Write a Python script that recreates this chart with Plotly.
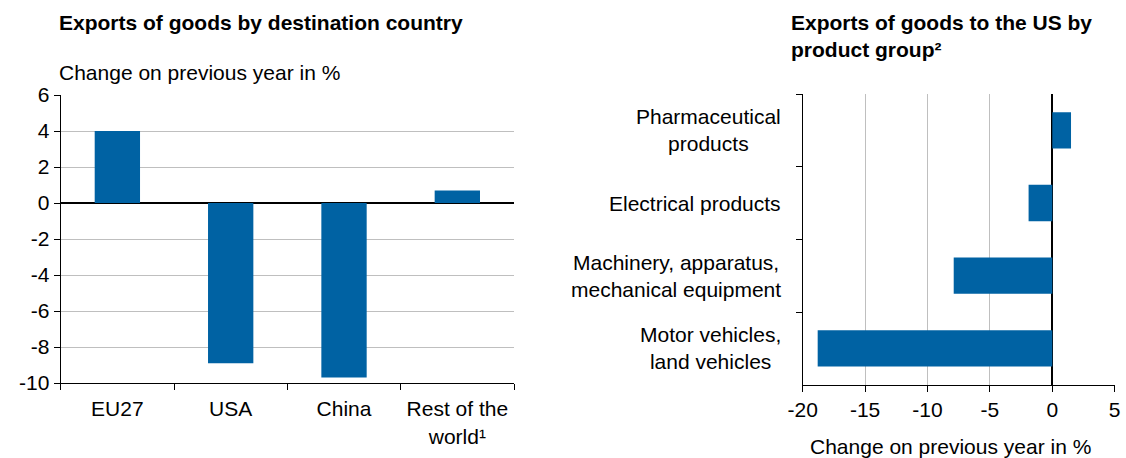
import plotly.graph_objects as go

# Left panel: exports by destination country
countries = ["EU27", "USA", "China", "Rest of the<br>world¹"]
country_change = [4.0, -8.9, -9.7, 0.7]
left_ticks = [6, 4, 2, 0, -2, -4, -6, -8, -10]

# Right panel: exports to the US by product group (top to bottom)
products = [
    "Pharmaceutical<br>products",
    "Electrical products",
    "Machinery, apparatus,<br>mechanical equipment",
    "Motor vehicles,<br>land vehicles",
]
product_change = [1.5, -1.9, -7.9, -18.8]
right_ticks = [-20, -15, -10, -5, 0, 5]

BLUE = "#0062A3"
GRID = "#BFBFBF"
FONT = "Liberation Sans"
FS = 21
W, H = 1126, 458

fig = go.Figure()

fig.add_trace(go.Bar(
    x=countries, y=country_change, xaxis="x", yaxis="y",
    marker=dict(color=BLUE, line=dict(width=0)), width=0.4,
    hoverinfo="skip",
))
fig.add_trace(go.Bar(
    x=product_change, y=products, orientation="h", xaxis="x2", yaxis="y2",
    marker=dict(color=BLUE, line=dict(width=0)), width=0.5,
    hoverinfo="skip",
))

tickfont = dict(family=FONT, size=FS, color="#000000")
axis_common = dict(
    ticks="outside", ticklen=6, tickcolor="#000", tickwidth=1.3,
    showline=True, linecolor="#000", linewidth=1.3,
    automargin=False, fixedrange=True,
)

fig.update_layout(
    width=W, height=H,
    margin=dict(l=0, r=0, t=0, b=0),
    paper_bgcolor="white", plot_bgcolor="white",
    showlegend=False,
    font=dict(family=FONT, color="#000000"),
    xaxis=dict(
        domain=[60.7 / W, 514 / W], anchor="y",
        type="category", tickson="boundaries", ticklabelstandoff=7,
        showgrid=False, tickfont=tickfont, **axis_common,
    ),
    yaxis=dict(
        domain=[1 - 383 / H, 1 - 95 / H], anchor="x",
        range=[-10, 6], tickvals=left_ticks,
        ticktext=[str(v) for v in left_ticks],
        showgrid=True, gridcolor=GRID, gridwidth=1.3,
        zeroline=True, zerolinecolor="#000", zerolinewidth=1.5,
        tickfont=tickfont, **axis_common,
    ),
    xaxis2=dict(
        domain=[802.7 / W, 1114.7 / W], anchor="y2",
        range=[-20, 5], tickvals=right_ticks,
        ticktext=[str(v) for v in right_ticks],
        showgrid=True, gridcolor=GRID, gridwidth=1.3,
        zeroline=True, zerolinecolor="#000", zerolinewidth=1.5,
        tickfont=tickfont, **axis_common,
    ),
    yaxis2=dict(
        domain=[1 - 384.7 / H, 1 - 94 / H], anchor="x2",
        type="category", autorange="reversed", tickson="boundaries",
        showgrid=False, showticklabels=False, **axis_common,
    ),
)

# Category labels for the product groups, centred line by line
for name in products:
    fig.add_annotation(
        x=783 / W, y=name, xref="paper", yref="y2",
        text=name, showarrow=False, xanchor="right", yanchor="middle",
        align="center", font=dict(family=FONT, size=FS, color="#000"),
    )

# Titles and axis captions
fig.add_annotation(
    x=57 / W, y=1 - 22 / H, xref="paper", yref="paper",
    text="<b>Exports of goods by destination country</b>", showarrow=False,
    xanchor="left", yanchor="middle", font=dict(family=FONT, size=FS),
)
fig.add_annotation(
    x=57 / W, y=1 - 73 / H, xref="paper", yref="paper",
    text="Change on previous year in %", showarrow=False,
    xanchor="left", yanchor="middle", font=dict(family=FONT, size=FS),
)
fig.add_annotation(
    x=789 / W, y=1 - 36 / H, xref="paper", yref="paper",
    text="<b>Exports of goods to the US by<br>product group²</b>", showarrow=False,
    xanchor="left", yanchor="middle", align="left",
    font=dict(family=FONT, size=FS),
)
fig.add_annotation(
    x=950 / W, y=1 - 446 / H, xref="paper", yref="paper",
    text="Change on previous year in %", showarrow=False,
    xanchor="center", yanchor="middle", font=dict(family=FONT, size=FS),
)

fig.write_html("out.html")
